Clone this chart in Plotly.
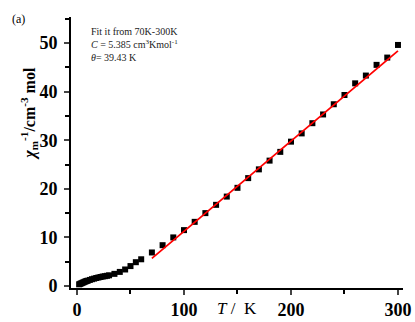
import plotly.graph_objects as go

# Measured data: T (K) and inverse susceptibility
T_data = [2, 3, 4, 5, 6, 7, 8, 9, 10, 12, 14, 16, 18, 20, 22, 24, 26, 28, 30, 35,
          40, 45, 50, 55, 60, 70, 80, 90, 100, 110, 120, 130, 140, 150, 160, 170,
          180, 190, 200, 210, 220, 230, 240, 250, 260, 270, 280, 290, 300]
inv_chi = [0.35, 0.45, 0.55, 0.65, 0.75, 0.85, 0.95, 1.03, 1.1, 1.25, 1.4, 1.52, 1.65, 1.75, 1.85, 1.95, 2.02, 2.1, 2.2, 2.5,
           2.9, 3.4, 4.1, 4.9, 5.5, 6.9, 8.4, 10.0, 11.5, 13.2, 15.0, 16.7, 18.4, 20.2, 22.2, 24.0,
           25.8, 27.6, 29.7, 31.4, 33.5, 35.3, 37.4, 39.3, 41.7, 43.3, 45.5, 47.0, 49.6]

# Curie-Weiss fit parameters
C_fit = 5.385
theta_fit = 39.43
T_fit = [70, 300]
fit_vals = [(t - theta_fit) / C_fit for t in T_fit]

x_ticks = [0, 100, 200, 300]
y_ticks = [0, 10, 20, 30, 40, 50]

fig = go.Figure()
fig.add_trace(go.Scatter(x=T_data, y=inv_chi, mode="markers",
                         marker=dict(symbol="square", size=6, color="black"),
                         showlegend=False))
fig.add_trace(go.Scatter(x=T_fit, y=fit_vals, mode="lines",
                         line=dict(color="red", width=1.8), showlegend=False))

serif = "Liberation Serif, Times New Roman, serif"
fig.update_layout(
    width=415, height=322,
    margin=dict(l=71, r=12, t=17, b=34),
    paper_bgcolor="white", plot_bgcolor="white",
    font=dict(family=serif, color="black"),
    xaxis=dict(range=[-5.6, 304.7], tickvals=x_ticks, ticktext=[f"<b>{v}</b>" for v in x_ticks],
               ticks="outside", ticklen=5, tickwidth=2, ticklabelstandoff=-1, automargin=False,
               showline=True, linecolor="black", linewidth=2, showgrid=False, zeroline=False,
               tickfont=dict(family=serif, size=18, color="black"),
               minor=dict(dtick=50, ticks="outside", ticklen=4, tickwidth=2, tickcolor="black", showgrid=False)),
    yaxis=dict(range=[-0.41, 55.35], tickvals=y_ticks, ticktext=[f"<b>{v}</b>" for v in y_ticks],
               ticks="outside", ticklen=5, tickwidth=2, ticklabelstandoff=3, automargin=False,
               showline=True, linecolor="black", linewidth=2, showgrid=False, zeroline=False,
               tickfont=dict(family=serif, size=18, color="black"),
               minor=dict(dtick=5, ticks="outside", ticklen=4, tickwidth=2, tickcolor="black", showgrid=False)),
)

fig.add_annotation(text="(a)", xref="paper", yref="paper", x=-0.185, y=0.993,
                   xanchor="left", yanchor="middle", showarrow=False,
                   font=dict(family=serif, size=12, color="black"))
fig.add_annotation(text="Fit it from 70K-300K<br><i>C</i> = 5.385 cm<sup>3</sup>Kmol<sup>-1</sup><br><i>θ</i>= 39.43 K",
                   xref="paper", yref="paper", x=0.055, y=0.975, xanchor="left", yanchor="top",
                   align="left", showarrow=False,
                   font=dict(family=serif, size=10, color="#222"))
fig.add_annotation(text="<b><i>χ</i><sub>m</sub><sup>-1</sup>/cm<sup>-3</sup> mol</b>",
                   xref="paper", yref="paper", x=-0.125, y=0.645, textangle=-90,
                   xanchor="center", yanchor="middle", showarrow=False,
                   font=dict(family=serif, size=16, color="black"))
fig.add_annotation(text="<i>T</i> /  K", xref="x", yref="paper", x=150, y=-0.033,
                   xanchor="center", yanchor="top", showarrow=False,
                   font=dict(family=serif, size=17, color="black"))

fig.write_html("out.html")
